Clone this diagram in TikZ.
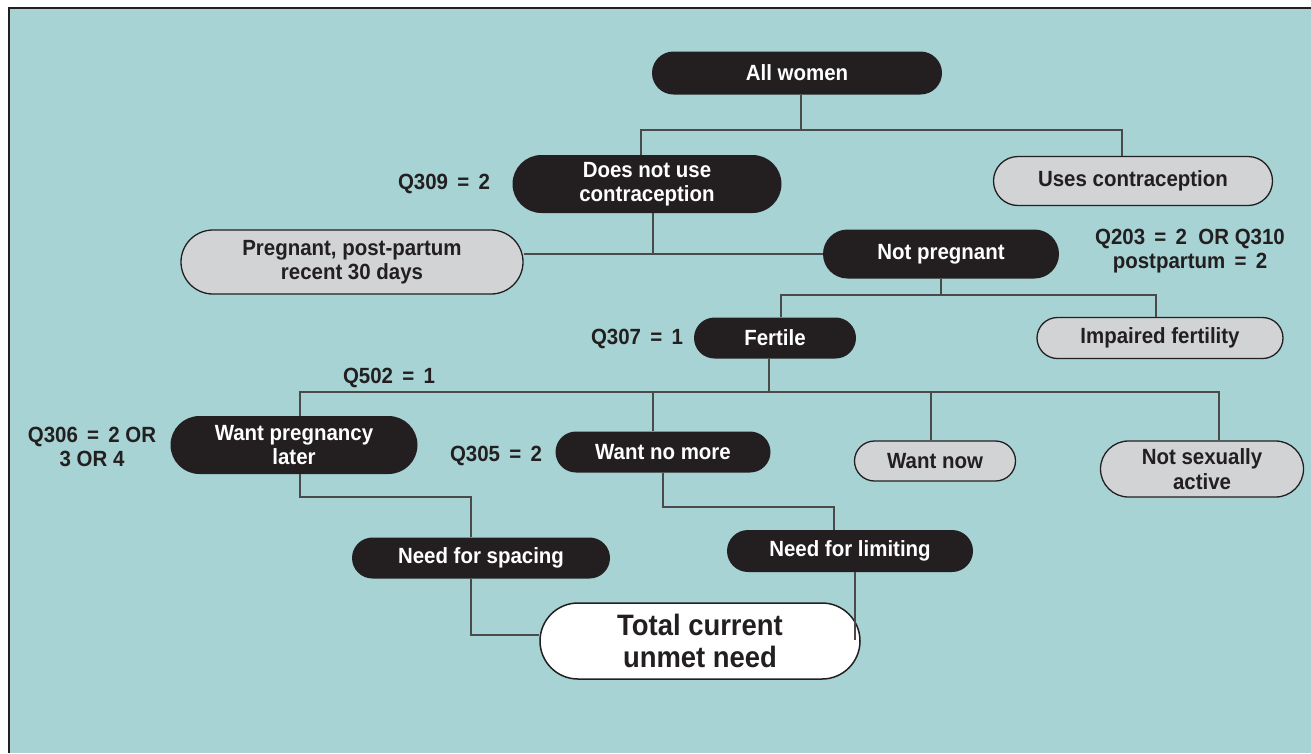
\documentclass[tikz,border=0pt]{standalone}
\usepackage{fontspec}
\setmainfont{Liberation Sans}[FakeStretch=0.93]
\definecolor{bg}{HTML}{A7D3D4}
\definecolor{ink}{HTML}{231F20}
\definecolor{pale}{HTML}{D1D3D4}
\definecolor{wire}{HTML}{4A4A4A}
\newcommand\eqsym{\hspace{0.42em}=\hspace{0.42em}}
\tikzset{
  txt/.style={font=\bfseries\fontsize{22}{24.5}\selectfont, align=center, inner sep=0pt},
  pill/.style n args={2}{txt, minimum width=#1, minimum height=#2, rounded corners=#2/2},
  darkpill/.style n args={2}{pill={#1}{#2}, fill=ink, text=white},
  palepill/.style n args={2}{pill={#1}{#2}, fill=pale, draw=ink, line width=1.3pt, text=ink},
  lbl/.style={txt, text=ink},
  wireline/.style={draw=wire, line width=1.3pt}
}
\begin{document}
\begin{tikzpicture}[x=1pt, y=-1pt]
\useasboundingbox (0,0) rectangle (1311,753);
\fill[white] (0,0) rectangle (1311,753);
\fill[bg] (9,8) rectangle (1311,753);
\draw[ink, line width=1.2pt] (9,753) -- (9,8) -- (1311,8);

% nodes
\node[darkpill={290pt}{43pt}] (all) at (797,73) {All women};
\node[darkpill={269pt}{58pt}] (notuse) at (647,184) {Does not use\\contraception};
\node[palepill={279pt}{49pt}] (uses) at (1133,181) {Uses contraception};
\node[palepill={342pt}{64pt}] (preg) at (352,262) {Pregnant, post-partum\\recent 30 days};
\node[darkpill={236pt}{49pt}] (notpreg) at (941,254) {Not pregnant};
\node[darkpill={162pt}{41pt}] (fertile) at (775,338) {Fertile};
\node[palepill={246pt}{41pt}] (impaired) at (1160,338) {Impaired fertility};
\node[darkpill={247pt}{58pt}] (wpl) at (294,445) {Want pregnancy\\later};
\node[darkpill={215pt}{41pt}] (wnm) at (663,452) {Want no more};
\node[palepill={161pt}{40pt}] (wnow) at (935,461) {Want now};
\node[palepill={203pt}{56pt}] (nsa) at (1202,469) {Not sexually\\active};
\node[darkpill={258pt}{41pt}] (spacing) at (481,558) {Need for spacing};
\node[darkpill={246pt}{42pt}] (limiting) at (850,551) {Need for limiting};
\node[pill={320pt}{76pt}, fill=white, draw=ink, line width=1.5pt, text=ink,
      font=\bfseries\fontsize{29.5}{32}\selectfont] (total) at (700,641) {Total current\\unmet need};

% labels
\node[lbl] (q309) at (444,184) {Q309\eqsym2};
\node[lbl] (q203) at (1190,251) {Q203\eqsym2\ \ OR Q310\\postpartum\eqsym2};
\node[lbl] (q307) at (637,339) {Q307\eqsym1};
\node[lbl] (q502) at (389,378) {Q502\eqsym1};
\node[lbl] (q306) at (92,447) {Q306\eqsym2 OR\\3 OR 4};
\node[lbl] (q305) at (496,456) {Q305\eqsym2};

% connector guide coordinates
\coordinate (h1) at (0,130);
\coordinate (h2) at (0,254);
\coordinate (h3) at (0,295);
\coordinate (h4) at (0,392);
\coordinate (h5) at (0,497);
\coordinate (h6) at (0,507);
\coordinate (h7) at (0,635);
\coordinate (h8) at (0,640);
\coordinate (xa) at (801,0);
\coordinate (xb) at (641,0);
\coordinate (xc) at (1122,0);
\coordinate (xd) at (653,0);
\coordinate (xe) at (941,0);
\coordinate (xf) at (781,0);
\coordinate (xg) at (1156,0);
\coordinate (xh) at (769,0);
\coordinate (xi) at (300,0);
\coordinate (xj) at (653,0);
\coordinate (xk) at (931,0);
\coordinate (xl) at (1219,0);
\coordinate (xm) at (471,0);
\coordinate (xn) at (663,0);
\coordinate (xo) at (834,0);
\coordinate (xp) at (855,0);

% connectors
\draw[wireline] (xa |- all.south) -- (xa |- h1);
\draw[wireline] (xb |- notuse.north) -- (xb |- h1) -- (xc |- h1) -- (xc |- uses.north);
\draw[wireline] (xd |- notuse.south) -- (xd |- h2);
\draw[wireline] (preg.east |- h2) -- (notpreg.west |- h2);
\draw[wireline] (xe |- notpreg.south) -- (xe |- h3);
\draw[wireline] (xf |- fertile.north) -- (xf |- h3) -- (xg |- h3) -- (xg |- impaired.north);
\draw[wireline] (xh |- fertile.south) -- (xh |- h4);
\draw[wireline] (xi |- wpl.north) -- (xi |- h4) -- (xl |- h4) -- (xl |- nsa.north);
\draw[wireline] (xj |- h4) -- (xj |- wnm.north);
\draw[wireline] (xk |- h4) -- (xk |- wnow.north);
\draw[wireline] (xi |- wpl.south) -- (xi |- h5) -- (xm |- h5) -- (xm |- spacing.north);
\draw[wireline] (xm |- spacing.south) -- (xm |- h7) -- (total.west |- h7);
\draw[wireline] (xn |- wnm.south) -- (xn |- h6) -- (xo |- h6) -- (xo |- limiting.north);
\draw[wireline] (xp |- limiting.south) -- (xp |- h8);
\end{tikzpicture}
\end{document}
